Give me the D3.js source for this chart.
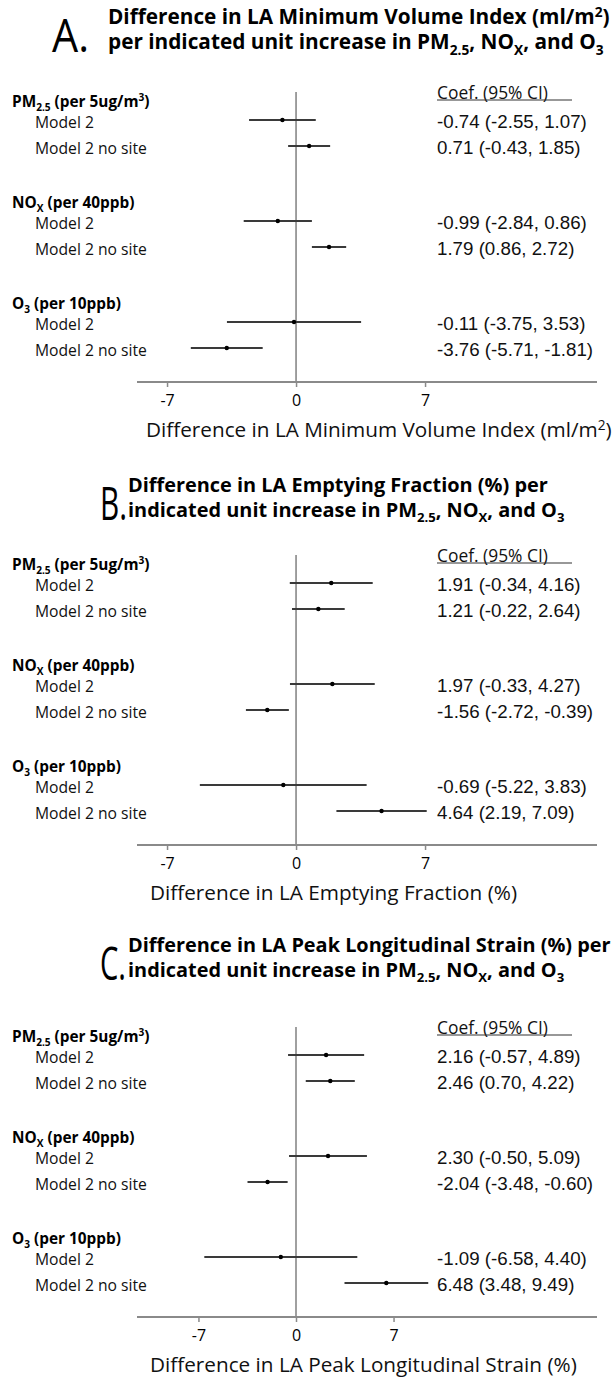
<!DOCTYPE html>
<html>
<head>
<meta charset="utf-8">
<script src="https://cdn.jsdelivr.net/npm/d3@7"></script>
<style>
  body { margin: 0; background: #fff; }
  svg { display: block; }
</style>
</head>
<body>
<svg id="chart" width="616" height="1380"></svg>
<script>
// ---- data -------------------------------------------------------------
const panelLetters = ["A", "B", "C"];
const titleLines = [
  ["Difference in LA Minimum Volume Index (ml/m^{2})", "per indicated unit increase in PM_{2.5}, NO_{X}, and O_{3}"],
  ["Difference in LA Emptying Fraction (%) per", "indicated unit increase in PM_{2.5}, NO_{X}, and O_{3}"],
  ["Difference in LA Peak Longitudinal Strain (%) per", "indicated unit increase in PM_{2.5}, NO_{X}, and O_{3}"]
];
const axisTitles = [
  "Difference in LA Minimum Volume Index (ml/m^{2})",
  "Difference in LA Emptying Fraction (%)",
  "Difference in LA Peak Longitudinal Strain (%)"
];
const exposures = ["PM_{2.5} (per 5ug/m^{3})", "NO_{X} (per 40ppb)", "O_{3} (per 10ppb)"];
const models = ["Model 2", "Model 2 no site"];
const coefHeader = "Coef. (95% CI)";
const tickValues = [-7, 0, 7];

// rows ordered: PM2.5 (Model 2, no site), NOx (...), O3 (...)
const estA  = [-0.74, 0.71, -0.99, 1.79, -0.11, -3.76];
const lowA  = [-2.55, -0.43, -2.84, 0.86, -3.75, -5.71];
const highA = [1.07, 1.85, 0.86, 2.72, 3.53, -1.81];

const estB  = [1.91, 1.21, 1.97, -1.56, -0.69, 4.64];
const lowB  = [-0.34, -0.22, -0.33, -2.72, -5.22, 2.19];
const highB = [4.16, 2.64, 4.27, -0.39, 3.83, 7.09];

const estC  = [2.16, 2.46, 2.30, -2.04, -1.09, 6.48];
const lowC  = [-0.57, 0.70, -0.50, -3.48, -6.58, 3.48];
const highC = [4.89, 4.22, 5.09, -0.60, 4.40, 9.49];

const xDomainA = [-8.63, 16.33];
const xDomainB = [-8.63, 16.33];
const xDomainC = [-11.41, 21.6];

// ---- setup ------------------------------------------------------------
const SANS = "'Open Sans', 'Noto Sans', sans-serif";
const ARIAL = "'Liberation Sans', Arial, sans-serif";
const svg = d3.select("#chart");
const fmt = d3.formatLocale({decimal: ".", thousands: ",", grouping: [3], currency: ["", ""], minus: "-"}).format(".2f");

// text with _{sub} and ^{sup} segments
function rich(textSel, str, size) {
  const parts = str.split(/(_\{[^}]*\}|\^\{[^}]*\})/).filter(s => s.length);
  let shift = 0;
  parts.forEach(p => {
    let target = 0, txt = p, small = false;
    if (p.startsWith("_{")) { target = 0.26 * size; txt = p.slice(2, -1); small = true; }
    else if (p.startsWith("^{")) { target = -0.36 * size; txt = p.slice(2, -1); small = true; }
    const t = textSel.append("tspan").attr("dy", target - shift).text(txt);
    if (small) t.attr("font-size", size * 0.66);
    shift = target;
  });
  return textSel;
}
function richWidth(str, fam, wt, size) {
  const t = svg.append("text").attr("font-family", fam).attr("font-weight", wt).attr("font-size", size);
  rich(t, str, size);
  const w = t.node().getComputedTextLength();
  t.remove();
  return w;
}
function fitSize(str, fam, wt, width) {
  return 20 * width / richWidth(str, fam, wt, 20);
}

const headerSize = fitSize(exposures[2], SANS, 700, 109);
const labelSize = fitSize(models[1], SANS, 400, 112);
const valueSize = fitSize("-0.74 (-2.55, 1.07)", ARIAL, 400, 150);
const coefSize = fitSize(coefHeader, SANS, 400, 111);
const axisTitleSize = fitSize(axisTitles[0], SANS, 400, 466);
const tickSize = 16;
const letterSize = 46;

const panels = [
  {est: estA, low: lowA, high: highA, dom: xDomainA, axisY: 382, titleY: 17, letterX: 52, letterW: 37, titleX: 108, titleW: 502, axisTitleX: 146},
  {est: estB, low: lowB, high: highB, dom: xDomainB, axisY: 845, titleY: 485, letterX: 100, letterW: 27, titleX: 128, titleW: 420, axisTitleX: 150},
  {est: estC, low: lowC, high: highC, dom: xDomainC, axisY: 1317, titleY: 945, letterX: 100, letterW: 26, titleX: 128, titleW: 483, axisTitleX: 150}
];

// row offsets above the axis line
const groupY = d3.scaleLinear().domain([0, 2]).range([-262, -60]);
const modelStep = 26;
const headerGap = 19;

panels.forEach((p, pi) => {
  const g = svg.append("g");
  const x = d3.scaleLinear().domain(p.dom).range([137, 597]);
  const rowY = i => p.axisY + groupY(Math.floor(i / 2)) + (i % 2) * modelStep;
  const titleSize = fitSize(titleLines[pi][0], SANS, 700, p.titleW);

  // panel letter and title
  g.append("text")
    .attr("x", p.letterX).attr("y", p.titleY + 25 + 16 * 0.36 + 4)
    .attr("font-family", SANS).attr("font-size", letterSize).attr("fill", "#000")
    .attr("textLength", p.letterW).attr("lengthAdjust", "spacingAndGlyphs")
    .text(panelLetters[pi] + ".");
  titleLines[pi].forEach((ln, li) => {
    const t = g.append("text")
      .attr("x", p.titleX).attr("y", p.titleY + li * 25 + titleSize * 0.36)
      .attr("font-family", SANS).attr("font-weight", 700).attr("font-size", titleSize).attr("fill", "#000");
    rich(t, ln, titleSize);
  });

  // zero reference line
  g.append("line")
    .attr("x1", x(0)).attr("x2", x(0))
    .attr("y1", p.axisY - 290).attr("y2", p.axisY)
    .attr("stroke", "#808080").attr("stroke-width", 1.5);

  // x axis
  const axis = d3.axisBottom(x).tickValues(tickValues).tickSize(5).tickPadding(8).tickFormat(d3.format("d"));
  const ax = g.append("g").attr("transform", `translate(0,${p.axisY})`).call(axis);
  ax.select(".domain").attr("stroke", "#8a8a8a").attr("stroke-width", 2).attr("d", `M137,0H597`);
  ax.selectAll(".tick line").attr("stroke", "#8a8a8a").attr("stroke-width", 1.5);
  ax.selectAll(".tick text")
    .attr("font-family", SANS).attr("font-size", tickSize).attr("fill", "#000")
    .text(d => d3.format("d")(d).replace("\u2212", "-"));

  // axis title
  const at = g.append("text")
    .attr("x", p.axisTitleX).attr("y", p.axisY + 48 + axisTitleSize * 0.36)
    .attr("font-family", SANS).attr("font-size", axisTitleSize).attr("fill", "#111");
  rich(at, axisTitles[pi], axisTitleSize);

  // exposure headers and model labels
  exposures.forEach((e, ei) => {
    const t = g.append("text")
      .attr("x", 12).attr("y", p.axisY + groupY(ei) - headerGap + headerSize * 0.36)
      .attr("font-family", SANS).attr("font-weight", 700).attr("font-size", headerSize).attr("fill", "#000");
    rich(t, e, headerSize);
  });
  d3.range(6).forEach(i => {
    g.append("text")
      .attr("x", 35).attr("y", rowY(i) + 2 + labelSize * 0.36)
      .attr("font-family", SANS).attr("font-size", labelSize).attr("fill", "#111")
      .text(models[i % 2]);
  });

  // coefficient column
  const headY = p.axisY - 282;
  g.append("text")
    .attr("x", 437).attr("y", headY - 7.5 + coefSize * 0.36)
    .attr("font-family", SANS).attr("font-size", coefSize).attr("fill", "#111")
    .text(coefHeader);
  g.append("line")
    .attr("x1", 437).attr("x2", 572).attr("y1", headY).attr("y2", headY)
    .attr("stroke", "#333").attr("stroke-width", 1.2);

  const rows = d3.range(6).map(i => ({i, est: p.est[i], lo: p.low[i], hi: p.high[i]}));
  g.selectAll(".val").data(rows).join("text")
    .attr("x", 437).attr("y", d => rowY(d.i) + 1 + valueSize * 0.36)
    .attr("font-family", ARIAL).attr("font-size", valueSize).attr("fill", "#111")
    .text(d => `${fmt(d.est)} (${fmt(d.lo)}, ${fmt(d.hi)})`);

  // confidence intervals and point estimates
  g.selectAll(".ci").data(rows).join("line")
    .attr("x1", d => x(d.lo)).attr("x2", d => x(d.hi))
    .attr("y1", d => rowY(d.i)).attr("y2", d => rowY(d.i))
    .attr("stroke", "#3a3a3a").attr("stroke-width", 2);
  g.selectAll(".pt").data(rows).join("circle")
    .attr("cx", d => x(d.est)).attr("cy", d => rowY(d.i)).attr("r", 2.2)
    .attr("fill", "#000");
});
</script>
</body>
</html>
